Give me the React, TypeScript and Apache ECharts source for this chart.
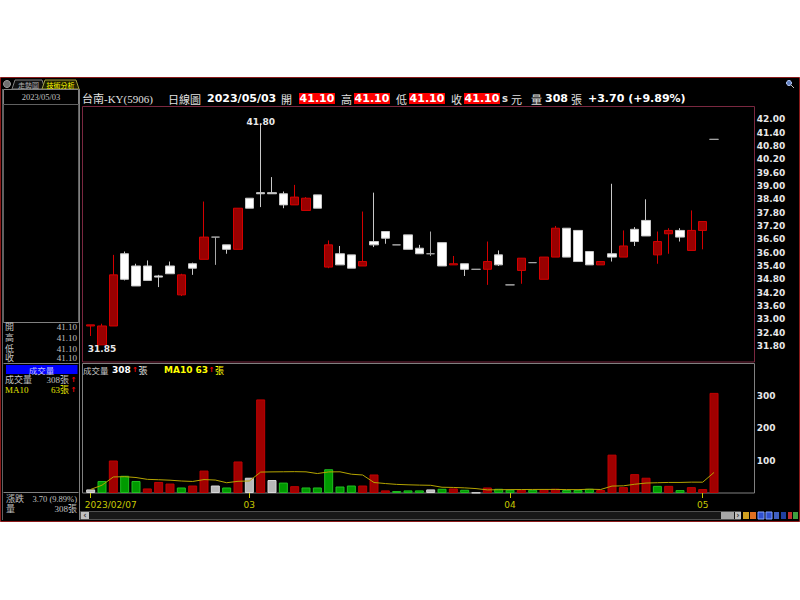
import React, { useEffect, useRef } from "react";
import * as echarts from "echarts";

const stockTitle = "台南-KY(5906)";
const chartKind = "日線圖";

const dates = [
  "2023/02/07", "2023/02/08", "2023/02/09", "2023/02/10", "2023/02/13", "2023/02/14", "2023/02/15",
  "2023/02/16", "2023/02/17", "2023/02/20", "2023/02/21", "2023/02/22", "2023/02/23", "2023/02/24",
  "2023/03/01", "2023/03/02", "2023/03/03", "2023/03/06", "2023/03/07", "2023/03/08", "2023/03/09",
  "2023/03/10", "2023/03/13", "2023/03/14", "2023/03/15", "2023/03/16", "2023/03/17", "2023/03/20",
  "2023/03/21", "2023/03/22", "2023/03/23", "2023/03/24", "2023/03/27", "2023/03/28", "2023/03/29",
  "2023/03/30", "2023/03/31", "2023/04/06", "2023/04/07", "2023/04/10", "2023/04/11", "2023/04/12",
  "2023/04/13", "2023/04/14", "2023/04/17", "2023/04/18", "2023/04/19", "2023/04/20", "2023/04/21",
  "2023/04/24", "2023/04/25", "2023/04/26", "2023/04/27", "2023/04/28", "2023/05/02", "2023/05/03",
];

const openP = [
  32.7, 31.85, 32.7, 35.95, 35.4, 35.4, 34.95, 35.4, 34.1, 35.5, 35.7, 36.7, 36.35, 36.15,
  38.45, 38.7, 38.7, 38.65, 38.15, 37.9, 38.6, 35.35, 35.95, 35.9, 35.4, 36.5, 36.95, 36.35,
  36.8, 36.2, 35.95, 36.45, 35.45, 35.5, 35.25, 35.25, 35.9, 34.55, 35.2, 35.55, 34.8, 35.8,
  37.1, 37.0, 36.05, 35.45, 35.95, 35.8, 37.05, 37.45, 35.9, 36.85, 37.0, 36.1, 37.0, 41.1,
];
const closeP = [
  32.75, 32.7, 35.0, 34.8, 34.5, 34.75, 34.9, 35.05, 35.0, 35.3, 36.7, 36.7, 36.15, 38.0,
  38.0, 38.65, 38.65, 38.15, 38.5, 38.45, 38.0, 36.35, 35.45, 35.3, 35.6, 36.35, 36.65, 36.35,
  36.15, 35.95, 35.95, 35.4, 35.5, 35.25, 35.25, 35.6, 35.45, 34.55, 35.75, 35.55, 35.8, 37.1,
  35.8, 35.6, 35.45, 35.6, 35.8, 36.3, 36.5, 36.75, 36.5, 37.0, 36.7, 37.0, 37.4, 41.1,
];
const lowP = [
  32.25, 31.85, 32.7, 34.75, 34.5, 34.75, 34.45, 35.05, 34.05, 35.0, 35.7, 35.45, 35.95, 36.15,
  38.0, 38.05, 38.65, 38.0, 38.15, 37.9, 38.0, 35.3, 35.45, 35.3, 35.4, 36.25, 36.4, 36.35,
  36.15, 35.95, 35.85, 35.4, 35.45, 34.95, 35.25, 34.55, 35.4, 34.55, 34.6, 35.55, 34.8, 35.8,
  35.8, 35.6, 35.45, 35.45, 35.6, 35.8, 36.3, 36.75, 35.5, 35.95, 36.5, 36.1, 36.15, 41.1,
];
const highP = [
  32.75, 32.8, 35.9, 36.05, 35.5, 35.65, 35.0, 35.6, 35.05, 35.55, 38.3, 36.7, 36.35, 38.0,
  38.45, 41.8, 39.4, 38.75, 39.05, 38.5, 38.6, 36.55, 36.3, 35.9, 37.85, 38.7, 36.95, 36.35,
  36.8, 36.35, 36.95, 36.45, 35.85, 35.5, 35.25, 36.5, 36.1, 34.55, 35.75, 35.55, 35.8, 37.2,
  37.1, 37.0, 36.05, 35.6, 39.1, 37.0, 37.15, 38.4, 36.95, 37.1, 37.1, 37.9, 37.4, 41.1,
];
const volume = [
  11, 37, 100, 53, 37, 14, 34, 29, 17, 23, 69, 23, 17, 97,
  47, 288, 40, 32, 21, 17, 17, 73, 20, 23, 23, 57, 8, 6,
  8, 8, 11, 13, 14, 10, 1, 17, 13, 10, 10, 10, 12, 13,
  9, 9, 13, 9, 118, 18, 58, 47, 22, 22, 9, 18, 12, 308,
];

const UP = "#990000";
const UP_EDGE = "#d40000";
const DOWN_FILL = "#ffffff";
const DOWN_EDGE = "#c8c8c8";
const DOJI = "#a8a8a8";
const V_UP = { fill: "#a00000", edge: "#c00000" };
const V_DOWN = { fill: "#009a00", edge: "#20c020" };
const V_FLAT = { fill: "#b8b8b8", edge: "#d8d8d8" };
const YEL = "#c8c800";
const CJK = "'Noto Sans CJK TC'";
const NUMB = "'DejaVu Sans'";

const isMonthStart = (i: number) =>
  i === 0 || dates[i].slice(5, 7) !== dates[i - 1].slice(5, 7);

function txt(x: number, y: number, text: string, fill: string, font: string, align = "left") {
  return {
    type: "text",
    x,
    y,
    silent: true,
    style: { text, fill, font, align, verticalAlign: "middle", textAlign: align, textVerticalAlign: "middle" },
  };
}
function rect(x: number, y: number, w: number, h: number, fill: string, stroke?: string, lw = 1) {
  return {
    type: "rect",
    silent: true,
    shape: { x, y, width: w, height: h },
    style: { fill, stroke: stroke || null, lineWidth: stroke ? lw : 0 },
  };
}
function ln(x1: number, y1: number, x2: number, y2: number, stroke: string) {
  return { type: "line", silent: true, shape: { x1, y1, x2, y2 }, style: { stroke, lineWidth: 1 } };
}

export default function App() {
  const ref = useRef<HTMLDivElement>(null);

  useEffect(() => {
    if (!ref.current) return;
    const chart = echarts.init(ref.current, undefined, { renderer: "svg" });

    const L = dates.length - 1;
    const chg = closeP[L] - closeP[L - 1];
    const pct = (chg / closeP[L - 1]) * 100;
    const ma10 = volume.map((_, i) => {
      const s = volume.slice(Math.max(0, i - 9), i + 1);
      return +(s.reduce((a, b) => a + b, 0) / s.length).toFixed(2);
    });
    const lastMa = Math.round(ma10[L]);
    const f2 = (v: number) => v.toFixed(2);

    const candleData = dates.map((_, i) => {
      const item: any = { value: [openP[i], closeP[i], lowP[i], highP[i]] };
      if (openP[i] === closeP[i]) {
        item.itemStyle = { color: DOJI, color0: DOJI, borderColor: DOJI, borderColor0: DOJI };
      }
      return item;
    });
    const volData = volume.map((v, i) => {
      const prev = i > 0 ? closeP[i - 1] : closeP[i];
      const c = closeP[i] > prev ? V_UP : closeP[i] < prev ? V_DOWN : V_FLAT;
      return { value: v, itemStyle: { color: c.fill, borderColor: c.edge, borderWidth: 1 } };
    });

    const hdrY = 98.5;
    const hdrNum = `bold 11px ${NUMB}`;
    const hdrCjk = `11px ${CJK}`;
    const redBox = (x: number, val: string) => [
      rect(x, 93, 36, 11, "#ff0000"),
      txt(x + 18, hdrY, val, "#ffffff", hdrNum, "center"),
    ];
    const leftFont = `9px 'Liberation Serif', ${CJK}`;
    const gray = "#c0c0c0";
    const arrowFont = `bold 7px ${NUMB}`;

    const graphic: any[] = [
      rect(0.5, 77.5, 799, 444, "#000000", "#8b1a1a"),
      { type: "circle", silent: true, shape: { cx: 7, cy: 84, r: 3.5 }, style: { fill: "#707070", stroke: "#a0a0a0" } },
      { type: "polygon", silent: true, shape: { points: [[12, 89], [15, 80], [42, 80], [45, 89]] }, style: { fill: "#101010", stroke: "#808080" } },
      txt(28.5, 84.5, "走勢圖", "#b0b0b0", `7px ${CJK}`, "center"),
      { type: "polygon", silent: true, shape: { points: [[42, 89], [45, 80], [76, 80], [79, 89]] }, style: { fill: "#202000", stroke: "#a0a040" } },
      txt(60.5, 84.5, "技術分析", "#ffff00", `7px ${CJK}`, "center"),
      rect(3.5, 89.5, 75, 15, "#000000", "#808080"),
      txt(41, 97, dates[L], gray, `8.5px 'Liberation Serif'`, "center"),
      rect(3.5, 104.5, 75, 218, "#000000", "#606060"),
      ln(3.5, 322.5, 78.5, 322.5, "#808080"),
      txt(5, 327, "開", gray, leftFont), txt(77, 327, f2(openP[L]), gray, leftFont, "right"),
      txt(5, 338, "高", gray, leftFont), txt(77, 338, f2(highP[L]), gray, leftFont, "right"),
      txt(5, 348.5, "低", gray, leftFont), txt(77, 348.5, f2(lowP[L]), gray, leftFont, "right"),
      txt(5, 358, "收", gray, leftFont), txt(77, 358, f2(closeP[L]), gray, leftFont, "right"),
      ln(3.5, 363.5, 78.5, 363.5, "#808080"),
      rect(6, 365, 71.5, 9, "#0000ff"),
      txt(41.5, 369.8, "成交量", "#c0c0ff", `8.5px ${CJK}`, "center"),
      txt(5, 380, "成交量", gray, leftFont), txt(69, 380, `${volume[L]}張`, gray, leftFont, "right"),
      txt(70.5, 380, "↑", "#ff0000", arrowFont),
      txt(5, 390, "MA10", "#e0e000", `9px 'Liberation Serif'`), txt(69, 390, `${lastMa}張`, "#e0e000", leftFont, "right"),
      txt(70.5, 390, "↑", "#ff0000", arrowFont),
      ln(3.5, 492.5, 78.5, 492.5, "#808080"),
      txt(6, 498.5, "漲跌", gray, leftFont),
      txt(77, 498.5, `${f2(chg)} (${pct.toFixed(2)}%)`, gray, `8.5px 'Liberation Serif'`, "right"),
      txt(6, 509, "量", gray, leftFont), txt(77, 509, `${volume[L]}張`, gray, leftFont, "right"),
      ln(79.5, 89, 79.5, 520, "#808080"),
      ln(2.5, 89, 2.5, 520, "#606060"),
      rect(82.5, 106.5, 672, 255.5, "rgba(0,0,0,0)", "#7a2840"),
      rect(82.5, 363.5, 672, 129.5, "rgba(0,0,0,0)", "#808080"),
      txt(82, hdrY, stockTitle, "#e0e0e0", `11px 'Liberation Serif', ${CJK}`),
      txt(168, hdrY, chartKind, "#e0e0e0", hdrCjk),
      txt(207, hdrY, dates[L], "#ffffff", hdrNum),
      txt(281, hdrY, "開", "#e0e0e0", hdrCjk),
      ...redBox(299, f2(openP[L])),
      txt(341, hdrY, "高", "#e0e0e0", hdrCjk),
      ...redBox(354, f2(highP[L])),
      txt(396, hdrY, "低", "#e0e0e0", hdrCjk),
      ...redBox(409, f2(lowP[L])),
      txt(451, hdrY, "收", "#e0e0e0", hdrCjk),
      ...redBox(464, f2(closeP[L])),
      txt(502, hdrY, "s", "#e0e0e0", `bold 10px ${NUMB}`),
      txt(511, hdrY, "元", "#e0e0e0", hdrCjk),
      txt(531, hdrY, "量", "#e0e0e0", hdrCjk),
      txt(545, hdrY, String(volume[L]), "#ffffff", hdrNum),
      txt(571, hdrY, "張", "#e0e0e0", hdrCjk),
      txt(588, hdrY, `${chg >= 0 ? "+" : ""}${f2(chg)} (${chg >= 0 ? "+" : ""}${pct.toFixed(2)}%)`, "#ffffff", hdrNum),
      { type: "circle", silent: true, shape: { cx: 789, cy: 83, r: 2.5 }, style: { fill: "#6080c0", stroke: "#c0d0ff" } },
      ln(791, 85, 794, 88, "#c0c0c0"),
      txt(83, 370, "成交量", "#c0c0c0", `8.5px ${CJK}`),
      txt(112, 370, String(volume[L]), "#ffffff", `bold 9px ${NUMB}`),
      txt(132, 370, "↑", "#ff0000", arrowFont),
      txt(138.5, 370, "張", "#e0e0e0", `9px ${CJK}`),
      txt(164, 370, `MA10 ${lastMa}`, "#ffff00", `bold 9px ${NUMB}`),
      txt(208.5, 370, "↑", "#ff0000", arrowFont),
      txt(215, 370, "張", "#ffff00", `9px ${CJK}`),
      rect(80.5, 511.5, 660, 8, "#181818", "#505050"),
      rect(81, 512, 8, 7, "#c0c0c0"),
      txt(85, 515.5, "‹", "#404040", `bold 8px ${NUMB}`, "center"),
      rect(721, 512, 13, 7, "#a8a8a8"),
      rect(735, 512, 6, 7, "#c0c0c0"),
      txt(738, 515.5, "›", "#404040", `bold 8px ${NUMB}`, "center"),
      rect(743, 512, 6, 7, "#d0a020"),
      rect(750, 512, 6, 7, "#e07020"),
      rect(758, 512, 6, 7, "#3050d0", "#80a0ff"),
      rect(766, 512, 6, 7, "#3050d0", "#80a0ff"),
      rect(774, 512, 5, 7, "#4060c0"),
      rect(781, 512, 5, 7, "#2040a0"),
      rect(788, 512, 4, 7, "#c03030"),
      rect(793, 512, 5, 7, "#40a040"),
    ];

    const axisNum = { color: "#e8e8e8", fontSize: 9, fontWeight: "bold", fontFamily: NUMB };

    chart.setOption({
      animation: false,
      backgroundColor: "transparent",
      graphic,
      grid: [
        { left: 85, right: 80.3, top: 106, height: 253.3, show: false },
        { left: 85, right: 80.3, top: 363, height: 130, show: false },
      ],
      xAxis: [
        {
          type: "category",
          gridIndex: 0,
          data: dates,
          boundaryGap: true,
          axisLine: { show: false },
          axisTick: { show: false },
          axisLabel: { show: false },
          splitLine: { show: false },
        },
        {
          type: "category",
          gridIndex: 1,
          data: dates,
          boundaryGap: true,
          axisLine: { show: false },
          axisTick: {
            show: true,
            alignWithLabel: true,
            interval: (i: number) => isMonthStart(i),
            length: 5,
            lineStyle: { color: YEL },
          },
          axisLabel: {
            interval: (i: number) => isMonthStart(i),
            margin: 7,
            formatter: (v: string, i: number) => (i === 0 ? `{f|${v}}` : `{m|${v.slice(5, 7)}}`),
            rich: {
              f: { color: YEL, fontSize: 9, fontFamily: NUMB, padding: [0, 0, 0, 40] },
              m: { color: YEL, fontSize: 9, fontFamily: NUMB },
            },
          },
          splitLine: { show: false },
        },
      ],
      yAxis: [
        {
          type: "value",
          gridIndex: 0,
          position: "right",
          min: 31.2,
          max: 42.6,
          interval: 0.6,
          axisLine: { show: false },
          axisTick: { show: false },
          splitLine: { show: false },
          axisLabel: {
            ...axisNum,
            margin: 37,
            showMinLabel: false,
            showMaxLabel: false,
            formatter: (v: number) => v.toFixed(2),
          },
        },
        {
          type: "value",
          gridIndex: 1,
          position: "right",
          min: 0,
          max: 400,
          interval: 100,
          axisLine: { show: false },
          axisTick: { show: false },
          splitLine: { show: false },
          axisLabel: { ...axisNum, margin: 37, showMinLabel: false, showMaxLabel: false },
        },
      ],
      series: [
        {
          type: "candlestick",
          xAxisIndex: 0,
          yAxisIndex: 0,
          data: candleData,
          barWidth: 9,
          itemStyle: {
            color: UP,
            color0: DOWN_FILL,
            borderColor: UP_EDGE,
            borderColor0: DOWN_EDGE,
            borderWidth: 1,
          },
          markPoint: {
            symbol: "circle",
            symbolSize: 1,
            itemStyle: { color: "rgba(0,0,0,0)" },
            label: {
              show: true,
              color: "#e8e8e8",
              fontSize: 9,
              fontWeight: "bold",
              fontFamily: NUMB,
              formatter: (p: any) => Number(p.value).toFixed(2),
            },
            data: [
              { type: "max", valueDim: "highest", label: { position: "top", distance: 0, offset: [0, 3] } },
              { type: "min", valueDim: "lowest", label: { position: "bottom", distance: 0, offset: [0, -1] } },
            ],
          },
        },
        {
          type: "bar",
          xAxisIndex: 1,
          yAxisIndex: 1,
          data: volData,
          barWidth: 9,
        },
        {
          type: "line",
          xAxisIndex: 1,
          yAxisIndex: 1,
          data: ma10,
          symbol: "none",
          z: 5,
          lineStyle: { color: "#b4a400", width: 1 },
        },
      ],
    });

    return () => chart.dispose();
  }, []);

  return (
    <div
      ref={ref}
      style={{ position: "absolute", left: 0, top: 0, width: 800, height: 600, background: "#ffffff" }}
    />
  );
}
